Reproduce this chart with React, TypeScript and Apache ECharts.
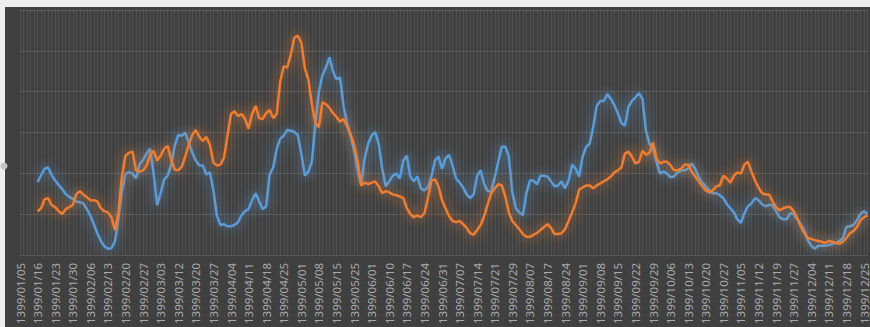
import React, { useEffect, useRef } from "react";
import * as echarts from "echarts";

const tickLabels = [
  "1399/01/05", "1399/01/16", "1399/01/23", "1399/01/30", "1399/02/06", "1399/02/13", "1399/02/20", "1399/02/27",
  "1399/03/03", "1399/03/12", "1399/03/20", "1399/03/27", "1399/04/04", "1399/04/11", "1399/04/18", "1399/04/25",
  "1399/05/01", "1399/05/08", "1399/05/15", "1399/05/25", "1399/06/01", "1399/06/10", "1399/06/17", "1399/06/24",
  "1399/06/31", "1399/07/07", "1399/07/14", "1399/07/21", "1399/07/29", "1399/08/07", "1399/08/17", "1399/08/24",
  "1399/09/01", "1399/09/08", "1399/09/15", "1399/09/22", "1399/09/29", "1399/10/06", "1399/10/13", "1399/10/20",
  "1399/10/27", "1399/11/05", "1399/11/12", "1399/11/19", "1399/11/27", "1399/12/04", "1399/12/11", "1399/12/18",
  "1399/12/25",
];

const pointsPerTick = 5;

const blueValues = [
  null, null, null, null, null,
  17.8, 19.5, 21.1, 21.4, 19.6, 18.2, 17.1, 16.1, 14.9, 14.2,
  13.7, 13.1, 12.9, 12.6, 11.2, 9.6, 7.5, 5.3, 3.4, 2.1,
  1.5, 1.6, 3.3, 9.0, 15.6, 19.9, 20.2, 19.9, 18.7, 22.2,
  23.3, 24.8, 26.0, 19.9, 12.2, 15.1, 18.5, 19.4, 22.1, 26.7,
  29.4, 29.2, 29.9, 27.5, 25.0, 23.1, 21.9, 21.9, 19.7, 20.2,
  15.8, 9.5, 7.3, 7.5, 7.0, 7.0, 7.3, 8.0, 9.7, 10.7,
  11.2, 13.4, 15.1, 13.1, 11.2, 11.9, 19.7, 21.4, 26.0, 28.4,
  29.2, 30.6, 30.4, 30.1, 29.4, 24.8, 19.4, 20.4, 22.8, 32.3,
  40.1, 44.0, 45.9, 48.4, 45.0, 43.0, 43.5, 36.5, 32.3, 29.2,
  25.5, 20.7, 17.3, 23.6, 27.2, 29.2, 30.1, 27.2, 21.1, 16.8,
  18.0, 19.4, 19.9, 18.7, 23.1, 24.3, 19.2, 18.0, 19.2, 16.3,
  15.8, 16.5, 19.2, 23.1, 24.1, 21.1, 23.6, 24.5, 21.9, 18.7,
  17.7, 16.5, 14.8, 13.9, 14.8, 19.4, 20.7, 17.3, 15.6, 15.6,
  19.0, 22.8, 26.5, 26.5, 24.1, 15.3, 11.4, 10.4, 9.7, 15.1,
  18.2, 18.2, 17.3, 19.4, 19.4, 19.2, 18.0, 16.8, 17.0, 18.0,
  16.3, 18.2, 22.1, 21.1, 19.2, 24.1, 26.5, 27.2, 31.3, 36.5,
  37.7, 37.7, 39.4, 38.2, 36.7, 34.7, 32.3, 31.6, 36.2, 37.7,
  38.6, 39.6, 38.2, 30.4, 27.2, 26.0, 22.8, 19.9, 20.4, 19.9,
  19.0, 19.2, 20.2, 20.7, 20.7, 21.1, 22.4, 21.1, 19.0, 17.7,
  16.8, 15.8, 15.1, 15.1, 14.6, 13.9, 12.4, 11.4, 10.4, 8.7,
  7.8, 10.2, 11.9, 12.6, 13.9, 13.4, 12.4, 11.9, 12.2, 12.2,
  10.7, 9.2, 8.7, 8.7, 10.2, 10.0, 8.7, 7.5, 6.1, 3.6,
  2.2, 1.5, 2.2, 2.2, 2.2, 2.4, 2.7, 2.9, 3.4, 4.1,
  6.8, 7.0, 7.3, 8.5, 10.0, 10.7, 10.0,
];

const orangeValues = [
  null, null, null, null, null,
  10.7, 11.4, 13.6, 13.9, 12.2, 11.7, 10.7, 10.0, 11.2, 11.7,
  12.2, 14.8, 15.6, 14.8, 14.1, 13.4, 13.4, 13.1, 11.4, 10.7,
  10.4, 9.2, 6.1, 10.4, 19.4, 24.3, 25.0, 25.3, 20.7, 20.4,
  20.7, 21.9, 24.5, 25.5, 23.1, 24.3, 26.0, 26.7, 23.3, 20.9,
  20.7, 21.6, 24.1, 27.0, 29.4, 30.6, 28.9, 27.9, 28.9, 27.0,
  22.6, 21.9, 22.1, 23.8, 29.2, 34.5, 35.2, 34.0, 34.5, 33.3,
  30.9, 34.5, 36.5, 33.5, 33.3, 34.7, 35.5, 33.5, 34.5, 42.5,
  46.2, 45.9, 49.1, 53.2, 53.7, 52.0, 45.7, 43.0, 36.9, 32.3,
  31.3, 37.4, 36.9, 36.0, 34.7, 33.8, 32.6, 33.3, 31.6, 29.6,
  27.0, 23.1, 17.0, 17.7, 17.3, 17.7, 18.0, 16.8, 15.1, 15.6,
  15.3, 14.8, 14.6, 14.3, 13.9, 11.4, 10.0, 9.2, 9.7, 9.2,
  10.2, 13.9, 18.2, 18.5, 16.8, 13.4, 11.4, 9.5, 8.3, 8.0,
  8.3, 7.5, 6.6, 5.3, 4.9, 6.1, 7.3, 9.5, 12.4, 15.1,
  16.3, 17.3, 17.0, 14.3, 10.4, 8.3, 7.3, 6.3, 5.1, 4.4,
  4.4, 4.9, 5.3, 6.1, 6.8, 7.5, 6.6, 5.1, 5.1, 5.3,
  6.3, 8.3, 10.4, 12.6, 16.0, 16.5, 17.0, 17.0, 16.3, 17.0,
  17.5, 18.0, 18.5, 19.2, 20.2, 20.7, 21.4, 24.8, 25.3, 24.1,
  22.4, 22.8, 25.5, 24.5, 25.0, 27.5, 23.6, 22.4, 22.8, 22.8,
  21.9, 20.7, 20.7, 21.1, 22.1, 22.1, 20.4, 19.2, 18.0, 16.8,
  15.8, 15.3, 15.8, 16.8, 17.0, 19.4, 18.7, 17.7, 19.4, 20.2,
  19.9, 22.1, 22.8, 20.4, 18.2, 16.5, 15.1, 14.8, 14.8, 13.1,
  11.7, 10.9, 11.4, 11.7, 11.7, 10.7, 9.0, 7.0, 5.3, 4.1,
  3.9, 3.6, 3.4, 3.2, 2.9, 3.4, 3.2, 2.9, 2.7, 3.2,
  4.1, 5.3, 5.8, 6.8, 8.5, 9.2, 9.7,
];

const categories = blueValues.map((_, i) =>
  i % pointsPerTick === 0 && tickLabels[i / pointsPerTick] ? tickLabels[i / pointsPerTick] : ""
);

export default function App() {
  const ref = useRef<HTMLDivElement>(null);

  useEffect(() => {
    if (!ref.current) return;
    const chart = echarts.init(ref.current, undefined, { renderer: "svg" });
    chart.setOption({
      animation: false,
      backgroundColor: "#404040",
      grid: { left: 20, right: 1, top: 10, bottom: 70, containLabel: false },
      xAxis: {
        type: "category",
        data: categories,
        boundaryGap: false,
        axisLine: { show: false },
        axisTick: { show: false },
        axisLabel: {
          interval: pointsPerTick - 1,
          rotate: 90,
          margin: 8,
          color: "#ababab",
          fontSize: 11.5,
          fontFamily: "Noto Sans",
        },
        splitLine: {
          show: true,
          interval: 0,
          lineStyle: { color: "rgba(255,255,255,0.08)", width: 1 },
        },
      },
      yAxis: {
        type: "value",
        min: 0,
        max: 60,
        interval: 10,
        axisLabel: { show: false },
        axisLine: { show: false },
        axisTick: { show: false },
        splitLine: { show: true, lineStyle: { color: "#575757", width: 1 } },
      },
      series: [
        {
          type: "line",
          data: blueValues,
          showSymbol: false,
          connectNulls: false,
          lineStyle: {
            color: "#5B9BD5",
            width: 2.5,
            shadowBlur: 12,
            shadowColor: "rgba(91,155,213,0.9)",
          },
          z: 3,
        },
        {
          type: "line",
          data: orangeValues,
          showSymbol: false,
          connectNulls: false,
          lineStyle: {
            color: "#ED7D31",
            width: 2.5,
            shadowBlur: 12,
            shadowColor: "rgba(237,125,49,0.9)",
          },
          z: 4,
        },
      ],
      graphic: [
        { type: "rect", left: 0, top: 0, shape: { width: 870, height: 7 }, style: { fill: "#ededed" }, z: 100 },
        { type: "rect", left: 0, top: 0, shape: { width: 5, height: 327 }, style: { fill: "#ededed" }, z: 100 },
        { type: "circle", x: 4, y: 166, shape: { r: 3.5 }, style: { fill: "#c4c4c4" }, z: 101 },
      ],
    });
    return () => chart.dispose();
  }, []);

  return (
    <div
      ref={ref}
      style={{ position: "absolute", left: 0, top: 0, width: 870, height: 327 }}
    />
  );
}
